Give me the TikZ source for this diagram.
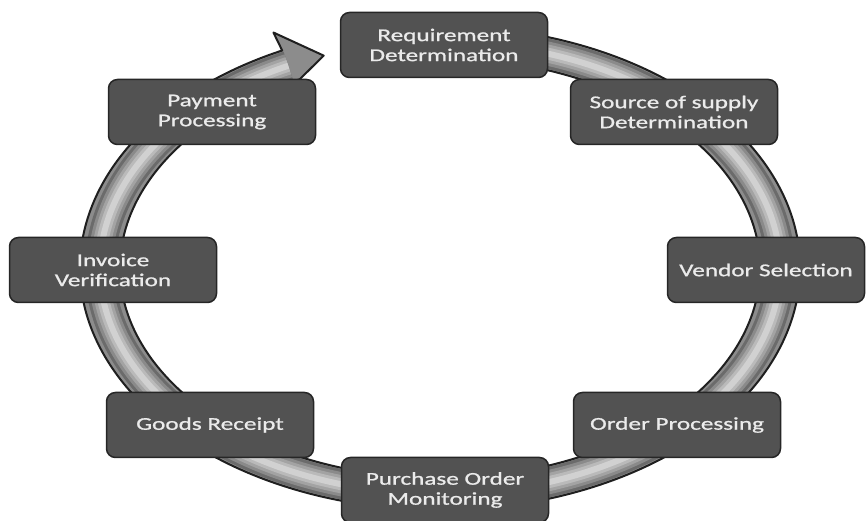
\documentclass[tikz,border=0pt]{standalone}
\usepackage{fontspec}
\newfontfamily\boxfont[FakeStretch=1.4,FakeBold=1]{Carlito}

\begin{document}
\begin{tikzpicture}[x=1pt,y=1pt,
      stagebox/.style={rectangle, rounded corners=9pt, draw=black!85, fill=black!68,
        line width=1.5pt, minimum width=207pt, minimum height=65pt, align=center,
        text=black!8, font=\boxfont\fontsize{18}{20}\selectfont},
      ringband/.style={fill=black!45, draw=black!88, line width=2pt, line join=round}]

    \useasboundingbox (0,0) rectangle (867,521);

    % cycle ring with arrow head
    \coordinate (c) at (440,253);
    \draw[ringband] ([shift={(c)}]75:360 and 242)
      arc[start angle=75, end angle=-244, x radius=360, y radius=242]
      -- ([shift={(c)}]116:380 and 262)
      -- ([shift={(c)}]110:340 and 226)
      -- ([shift={(c)}]116:320 and 210)
      arc[start angle=-244, end angle=75, x radius=320, y radius=210] -- cycle;
    % tube shading
    \foreach \w/\g in {30/58, 24/46, 18/36, 12/27, 6/18} {
      \draw[black!\g, line width=\w pt] ([shift={(c)}]75:340 and 226)
        arc[start angle=75, end angle=-243.5, x radius=340, y radius=226];
    }

    \node[stagebox] (rd) at (444,476) {Requirement\\Determination};
    \node[stagebox] (ss) at (674,409) {Source of supply\\Determination};
    \node[stagebox, minimum width=197pt] (vs) at (766,251) {Vendor Selection};
    \node[stagebox] (op) at (677,96) {Order Processing};
    \node[stagebox] (po) at (445,31) {Purchase Order\\Monitoring};
    \node[stagebox] (gr) at (210,96) {Goods Receipt};
    \node[stagebox] (iv) at (113,251) {Invoice\\Verification};
    \node[stagebox] (pp) at (212,409) {Payment\\Processing};

  \end{tikzpicture}
\end{document}
